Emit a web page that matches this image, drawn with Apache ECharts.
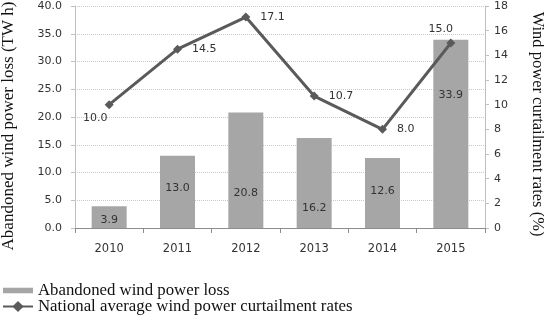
<!DOCTYPE html>
<html><head><meta charset="utf-8">
<script src="https://cdn.jsdelivr.net/npm/echarts@6/dist/echarts.min.js"></script>
<style>html,body{margin:0;padding:0;background:#fff}#c{width:544px;height:324px}</style>
</head><body><div id="c"></div>
<script>
const categories = ['2010', '2011', '2012', '2013', '2014', '2015'];
const lossValues = [3.9, 13.0, 20.8, 16.2, 12.6, 33.9];
const rateValues = [10.0, 14.5, 17.1, 10.7, 8.0, 15.0];
const lossName = 'Abandoned wind power loss';
const rateName = 'National average wind power curtailment rates';

// label placement styles (not data)
const barLabelDistance = [2, 34, 29, 14, 31, 127];
const lineLabelStyles = [
  {position: 'inside', offset: [-14, 13]},
  {position: 'right', distance: 10},
  {position: 'right', distance: 10},
  {position: 'right', distance: 10},
  {position: 'right', distance: 10},
  {position: 'inside', offset: [-10, -14]}
];

const numFont = 'DejaVu Sans';
const serif = 'Liberation Serif';

const chart = echarts.init(document.getElementById('c'), null, {renderer: 'canvas'});
chart.setOption({
  animation: false,
  backgroundColor: '#fff',
  grid: {left: 75, right: 59, top: 6, bottom: 96, containLabel: false, outerBoundsMode: 'none'},
  legend: {
    orient: 'vertical', left: 2, top: 282, height: 120, width: 540, padding: 0,
    itemGap: -1, itemWidth: 30, itemHeight: 14,
    textStyle: {fontFamily: serif, fontSize: 16.8, color: '#111', lineHeight: 14},
    data: [
      {name: lossName, icon: 'path://M0,0H27V5H0Z'},
      {name: rateName}
    ]
  },
  xAxis: {
    type: 'category', data: categories,
    axisLine: {lineStyle: {color: '#8c8c8c', width: 1}},
    axisTick: {show: true, length: 5, lineStyle: {color: '#8c8c8c'}},
    axisLabel: {fontFamily: numFont, fontSize: 11.5, color: '#333', margin: 15}
  },
  yAxis: [
    {
      type: 'value', min: 0, max: 40, interval: 5,
      name: 'Abandoned wind power loss (TW h)', nameLocation: 'middle', nameGap: 58,
      nameTextStyle: {fontFamily: serif, fontSize: 17, color: '#111', padding: [0, 18, 0, 0]},
      axisLine: {show: true, lineStyle: {color: '#bfbfbf'}},
      axisTick: {show: true, length: 4, lineStyle: {color: '#bfbfbf'}},
      axisLabel: {fontFamily: numFont, fontSize: 11, color: '#333', margin: 13,
        formatter: v => v.toFixed(1)},
      splitLine: {show: true, lineStyle: {color: '#c8c8c8', type: 'dotted'}}
    },
    {
      type: 'value', min: 0, max: 18, interval: 2, position: 'right',
      name: 'Wind power curtailment rates (%)', nameLocation: 'middle', nameGap: 44, nameRotate: -90,
      nameTextStyle: {fontFamily: serif, fontSize: 16.5, color: '#111', padding: [0, 0, 0, 14]},
      axisLine: {show: true, lineStyle: {color: '#bfbfbf'}},
      axisTick: {show: true, length: 4, lineStyle: {color: '#bfbfbf'}},
      axisLabel: {fontFamily: numFont, fontSize: 11, color: '#333', margin: 9},
      splitLine: {show: false}
    }
  ],
  series: [
    {
      name: lossName, type: 'bar', yAxisIndex: 0, barWidth: 35,
      itemStyle: {color: '#a6a6a6'},
      data: lossValues.map((v, i) => ({
        value: v,
        label: {show: true, position: 'insideBottom', distance: barLabelDistance[i],
          formatter: p => p.value.toFixed(1), fontFamily: numFont, fontSize: 11, color: '#333'}
      }))
    },
    {
      name: rateName, type: 'line', yAxisIndex: 1, z: 5,
      symbol: 'diamond', symbolSize: 9,
      lineStyle: {color: '#5a5a5a', width: 3},
      itemStyle: {color: '#5a5a5a'},
      data: rateValues.map((v, i) => ({
        value: v,
        label: Object.assign({show: true, formatter: p => p.value.toFixed(1),
          fontFamily: numFont, fontSize: 11, color: '#333'}, lineLabelStyles[i])
      }))
    }
  ]
});
</script>
</body></html>
